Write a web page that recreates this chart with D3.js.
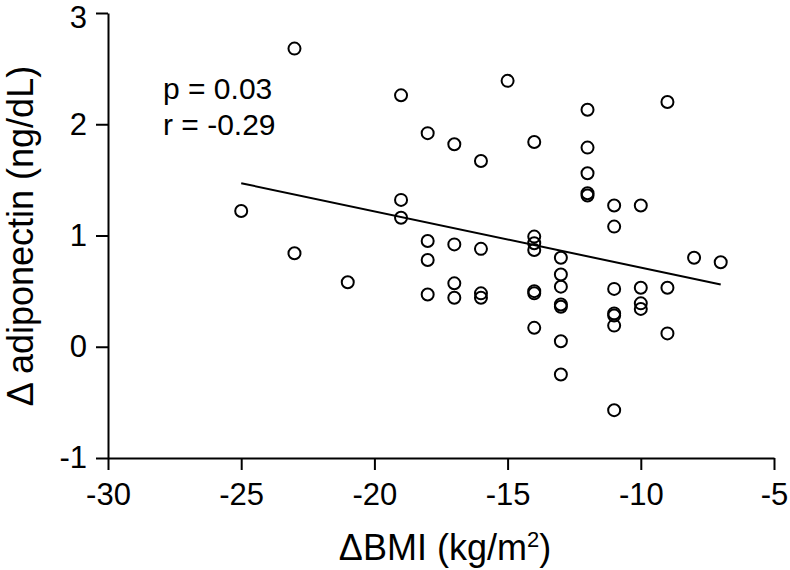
<!DOCTYPE html>
<html>
<head>
<meta charset="utf-8">
<script src="https://cdn.jsdelivr.net/npm/d3@7"></script>
<style>
  html, body { margin: 0; padding: 0; background: #fff; }
  svg { display: block; font-family: "Liberation Sans", Arial, sans-serif; }
</style>
</head>
<body>
<svg id="chart" width="790" height="570"></svg>
<script>
// ΔBMI (kg/m²) values
const bmi = [
  -25,
  -23, -23,
  -21,
  -19, -19, -19,
  -18, -18, -18, -18,
  -17, -17, -17, -17,
  -16, -16, -16, -16,
  -15,
  -14, -14, -14, -14, -14, -14, -14,
  -13, -13, -13, -13, -13, -13, -13,
  -12, -12, -12, -12, -12,
  -11, -11, -11, -11, -11, -11, -11,
  -10, -10, -10, -10,
  -9, -9, -9,
  -8,
  -7
];
// Δ adiponectin (ng/dL) values
const adiponectin = [
  1.22,
  2.68, 0.84,
  0.58,
  2.26, 1.32, 1.16,
  1.92, 0.95, 0.78, 0.47,
  1.82, 0.92, 0.57, 0.44,
  1.67, 0.88, 0.48, 0.44,
  2.39,
  1.84, 0.99, 0.93, 0.87, 0.50, 0.48, 0.17,
  0.80, 0.65, 0.54, 0.38, 0.36, 0.05, -0.25,
  2.13, 1.79, 1.56, 1.38, 1.36,
  1.27, 1.08, 0.52, 0.30, 0.28, 0.19, -0.57,
  1.27, 0.53, 0.39, 0.34,
  2.20, 0.53, 0.12,
  0.80,
  0.76
];
// Regression line endpoints
const fitX = [-25, -7];
const fitY = [1.47, 0.56];
// Axis ticks
const xTicks = [-30, -25, -20, -15, -10, -5];
const yTicks = [-1, 0, 1, 2, 3];
const annotations = ["p = 0.03", "r = -0.29"];

const svg = d3.select("#chart");
const x = d3.scaleLinear().domain([-30, -5]).range([108, 774]);
const y = d3.scaleLinear().domain([-1, 3]).range([458, 13]);

// Axes
const yAxis = svg.append("g")
  .attr("transform", `translate(${x(-30)},0)`)
  .call(d3.axisLeft(y).tickValues(yTicks).tickFormat(d3.format("d"))
    .tickSizeInner(12).tickSizeOuter(0).tickPadding(9));
const xAxis = svg.append("g")
  .attr("transform", `translate(0,${y(-1)})`)
  .call(d3.axisBottom(x).tickValues(xTicks).tickFormat(d3.format("d"))
    .tickSizeInner(12).tickSizeOuter(0).tickPadding(13));

[xAxis, yAxis].forEach(g => {
  g.attr("font-family", null).attr("font-size", null);
  g.select(".domain").attr("stroke", "#000").attr("stroke-width", 2);
  g.selectAll(".tick line").attr("stroke", "#000").attr("stroke-width", 2);
  g.selectAll(".tick text").attr("fill", "#000").style("font-size", "31px");
});
// keep plain hyphen-minus as in the reference
svg.selectAll(".tick text").text(function(d){ return String(d); });
// nudge the topmost y label so it is not clipped at the edge
yAxis.selectAll(".tick").filter(d => d === 3).select("text").attr("dy", "0.48em");

// Regression line
svg.append("line")
  .attr("x1", x(fitX[0])).attr("y1", y(fitY[0]))
  .attr("x2", x(fitX[1])).attr("y2", y(fitY[1]))
  .attr("stroke", "#000").attr("stroke-width", 2);

// Points
svg.append("g").selectAll("circle")
  .data(bmi.map((v, i) => [v, adiponectin[i]]))
  .join("circle")
  .attr("cx", d => x(d[0]))
  .attr("cy", d => y(d[1]))
  .attr("r", 6)
  .attr("fill", "none")
  .attr("stroke", "#000")
  .attr("stroke-width", 2);

// Annotations
svg.append("g").selectAll("text")
  .data(annotations)
  .join("text")
  .attr("x", 163)
  .attr("y", (d, i) => 99 + i * 36)
  .style("font-size", "30px")
  .text(d => d);

// X label
const xl = svg.append("text")
  .attr("x", 445).attr("y", 560)
  .attr("text-anchor", "middle")
  .style("font-size", "36px");
xl.append("tspan").text("ΔBMI (kg/m");
xl.append("tspan").attr("dy", -13).style("font-size", "22px").text("2");
xl.append("tspan").attr("dy", 13).text(")");

// Y label
svg.append("text")
  .attr("transform", "translate(33,236) rotate(-90)")
  .attr("text-anchor", "middle")
  .style("font-size", "36px")
  .text("Δ adiponectin (ng/dL)");
</script>
</body>
</html>
